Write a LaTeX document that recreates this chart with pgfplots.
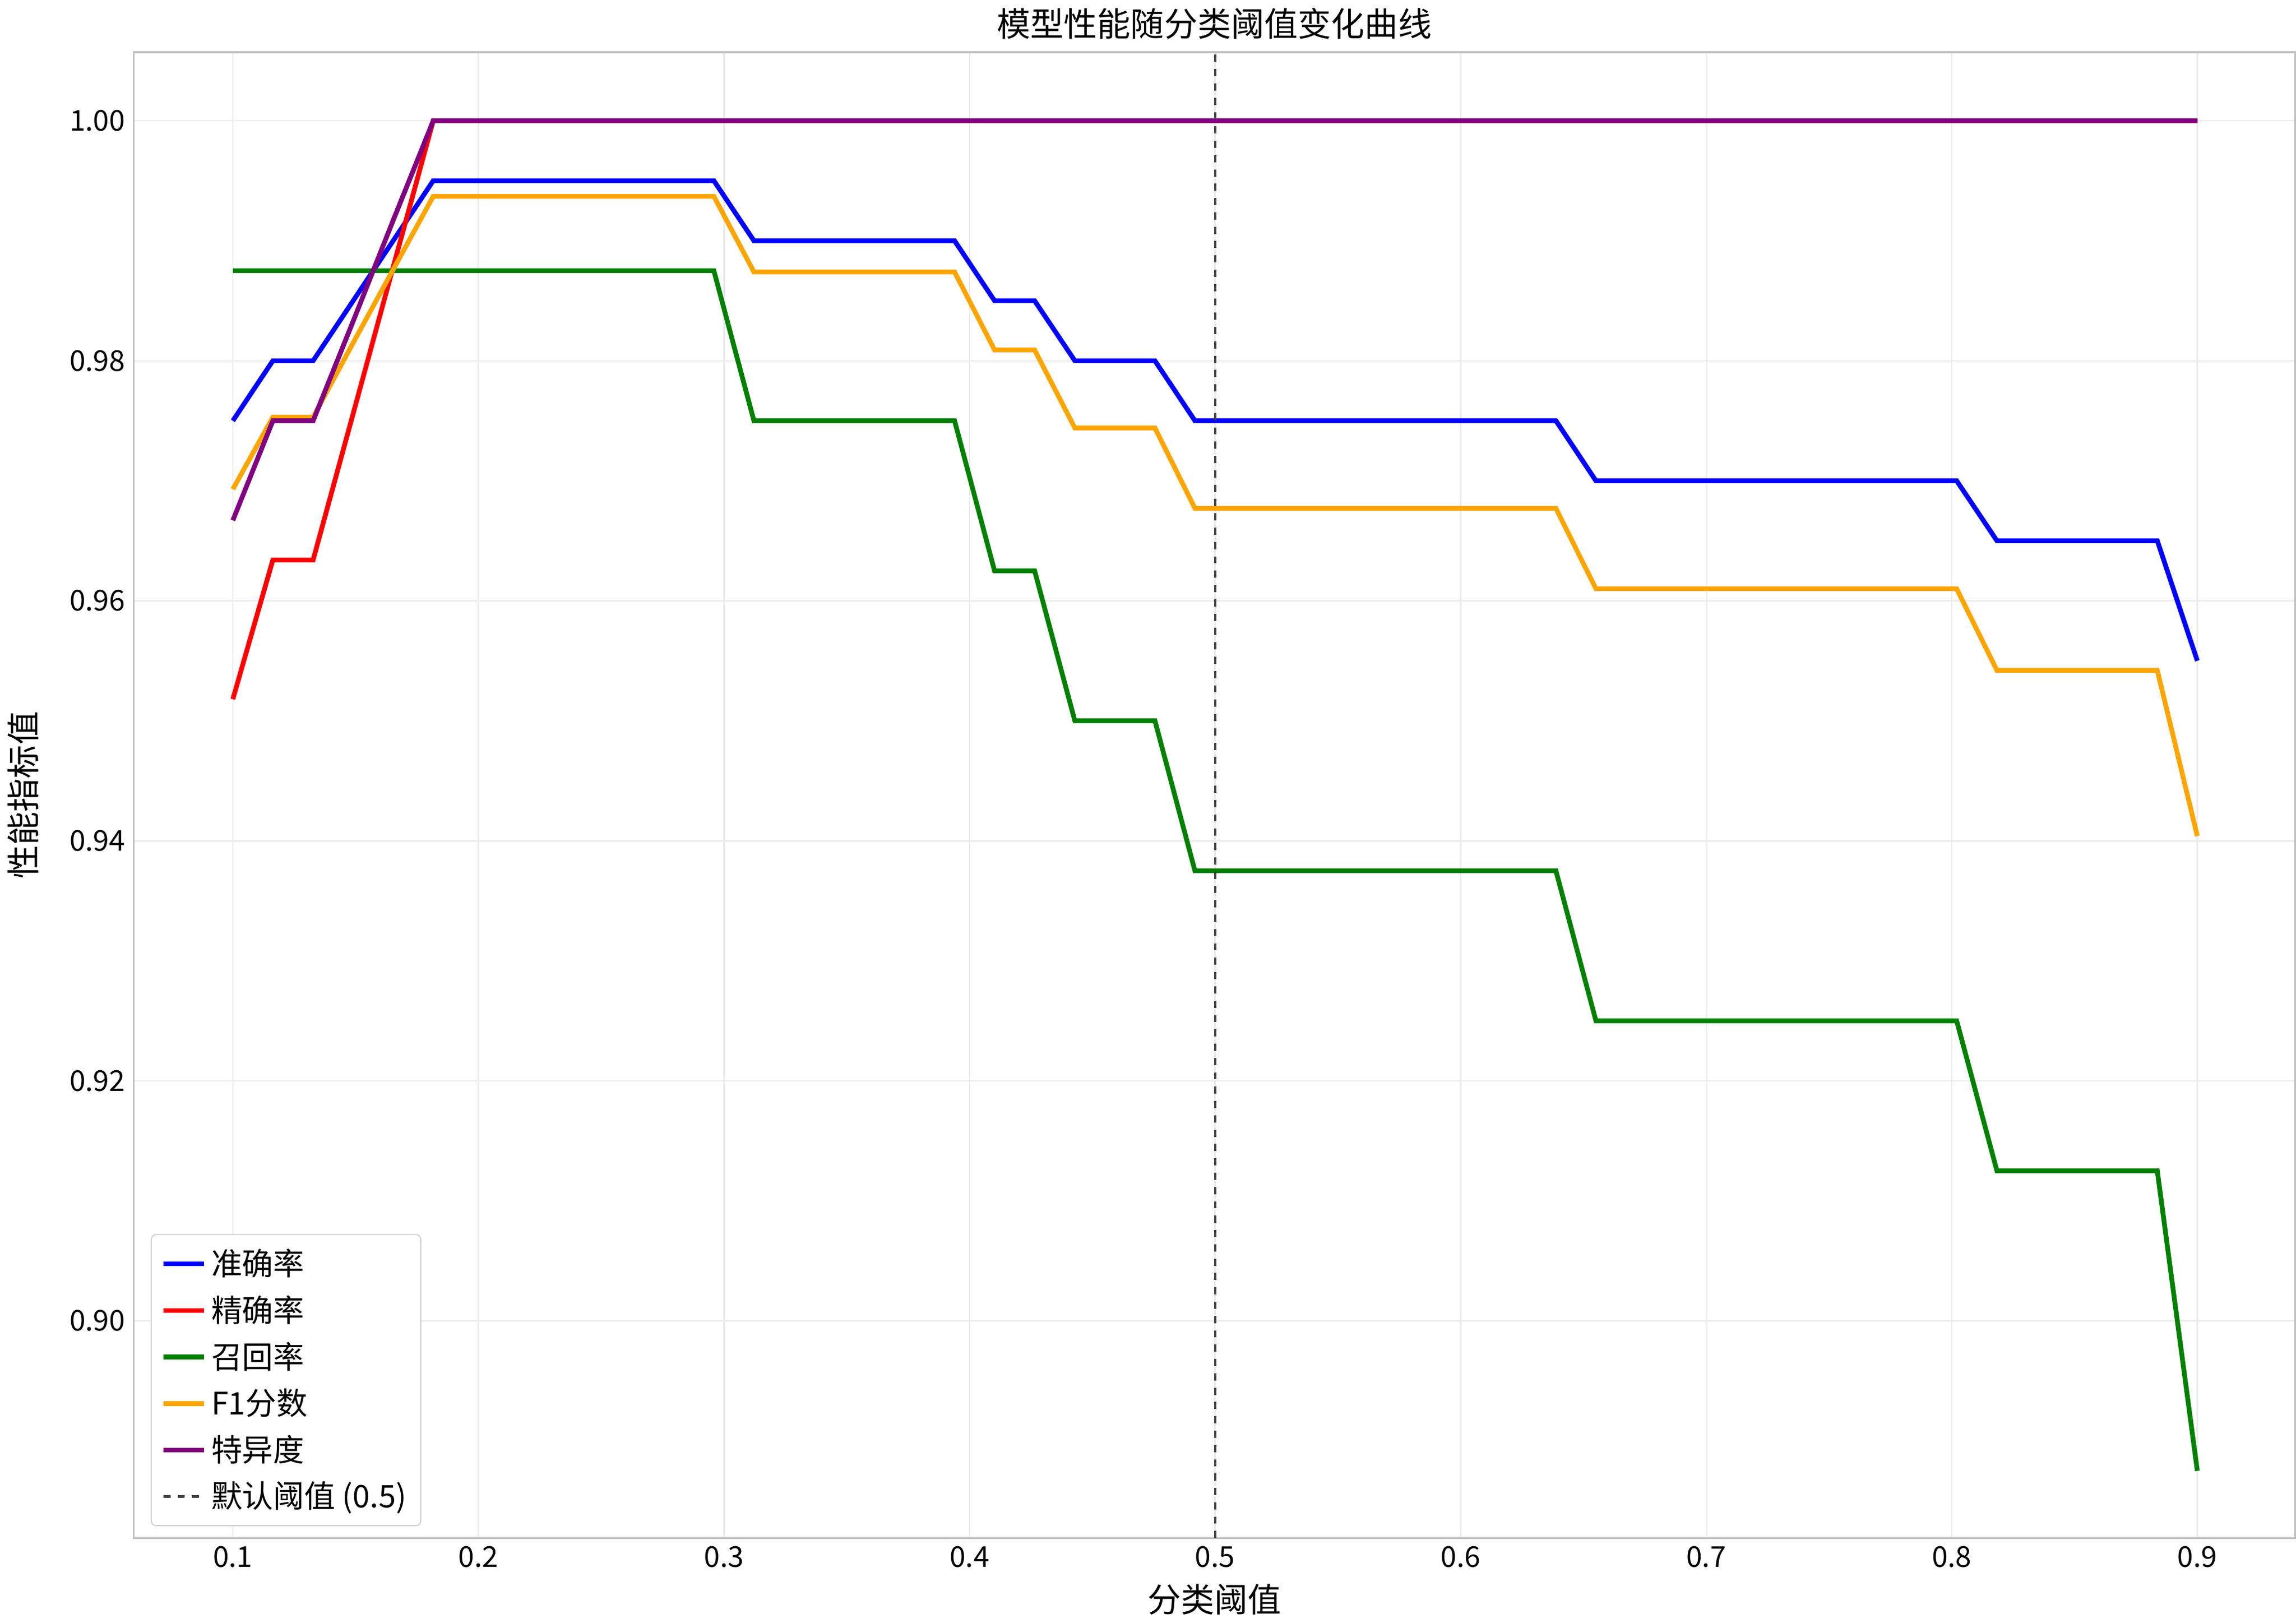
\documentclass[border=0pt]{standalone}
\usepackage{pgfplots}
\pgfplotsset{compat=1.18}
\usepackage{pgfplotstable}
\usepackage{fontspec}
\setmainfont{Noto Sans CJK SC}
\definecolor{mgreen}{RGB}{0,128,0}
\definecolor{morange}{RGB}{255,165,0}
\definecolor{mpurple}{RGB}{128,0,128}
\pgfplotstableread{
x acc prec rec f1 spec
0.1000 0.975 0.9518 0.9875 0.9693 0.9667
0.1163 0.980 0.9634 0.9875 0.9753 0.9750
0.1327 0.980 0.9634 0.9875 0.9753 0.9750
0.1490 0.985 0.9756 0.9875 0.9815 0.9833
0.1653 0.990 0.9878 0.9875 0.9876 0.9917
0.1816 0.995 1.0 0.9875 0.9937 1.0
0.2959 0.995 1.0 0.9875 0.9937 1.0
0.3122 0.990 1.0 0.975 0.9874 1.0
0.3939 0.990 1.0 0.975 0.9874 1.0
0.4102 0.985 1.0 0.9625 0.9809 1.0
0.4265 0.985 1.0 0.9625 0.9809 1.0
0.4429 0.980 1.0 0.950 0.9744 1.0
0.4755 0.980 1.0 0.950 0.9744 1.0
0.4918 0.975 1.0 0.9375 0.9677 1.0
0.6388 0.975 1.0 0.9375 0.9677 1.0
0.6551 0.970 1.0 0.925 0.9610 1.0
0.8020 0.970 1.0 0.925 0.9610 1.0
0.8184 0.965 1.0 0.9125 0.9542 1.0
0.8837 0.965 1.0 0.9125 0.9542 1.0
0.9000 0.955 1.0 0.8875 0.9404 1.0
}\data
\begin{document}
\begin{tikzpicture}
\begin{axis}[scale only axis, width=905pt, height=622pt,
  xmin=0.0596, xmax=0.9398, ymin=0.8819, ymax=1.0057,
  xtick={0.1,0.2,...,0.9},
  ytick={0.90,0.92,0.94,0.96,0.98,1.00},
  xticklabel style={/pgf/number format/fixed,/pgf/number format/precision=1},
  yticklabel style={/pgf/number format/fixed,/pgf/number format/fixed zerofill,/pgf/number format/precision=2},
  /pgf/number format/assume math mode=true,
  tick label style={font=\fontsize{12}{14}\selectfont},
  grid=major, grid style={gray!15, line width=0.6pt},
  axis line style={gray!50, line width=0.8pt},
  tick style={draw=none},
  title={模型性能随分类阈值变化曲线}, title style={font=\fontsize{14}{16}\selectfont, yshift=-4pt},
  xlabel={分类阈值}, ylabel={性能指标值},
  label style={font=\fontsize{14}{16}\selectfont},
  ylabel style={yshift=6pt},
  legend style={font=\fontsize{13}{16}\selectfont, draw=gray!40, rounded corners=2pt, at={(0.008,0.008)}, anchor=south west, row sep=3pt, inner sep=4pt},
  legend cell align=left,
  every axis plot/.append style={line width=2pt},
]
\addplot[blue] table[x=x,y=acc]{\data}; \addlegendentry{准确率}
\addplot[red] table[x=x,y=prec]{\data}; \addlegendentry{精确率}
\addplot[mgreen] table[x=x,y=rec]{\data}; \addlegendentry{召回率}
\addplot[morange] table[x=x,y=f1]{\data}; \addlegendentry{F1分数}
\addplot[mpurple] table[x=x,y=spec]{\data}; \addlegendentry{特异度}
\addplot[black!75, dashed, line width=1pt] coordinates {(0.5,0.8819) (0.5,1.0057)}; \addlegendentry{默认阈值 (0.5)}
\end{axis}
\end{tikzpicture}
\end{document}
